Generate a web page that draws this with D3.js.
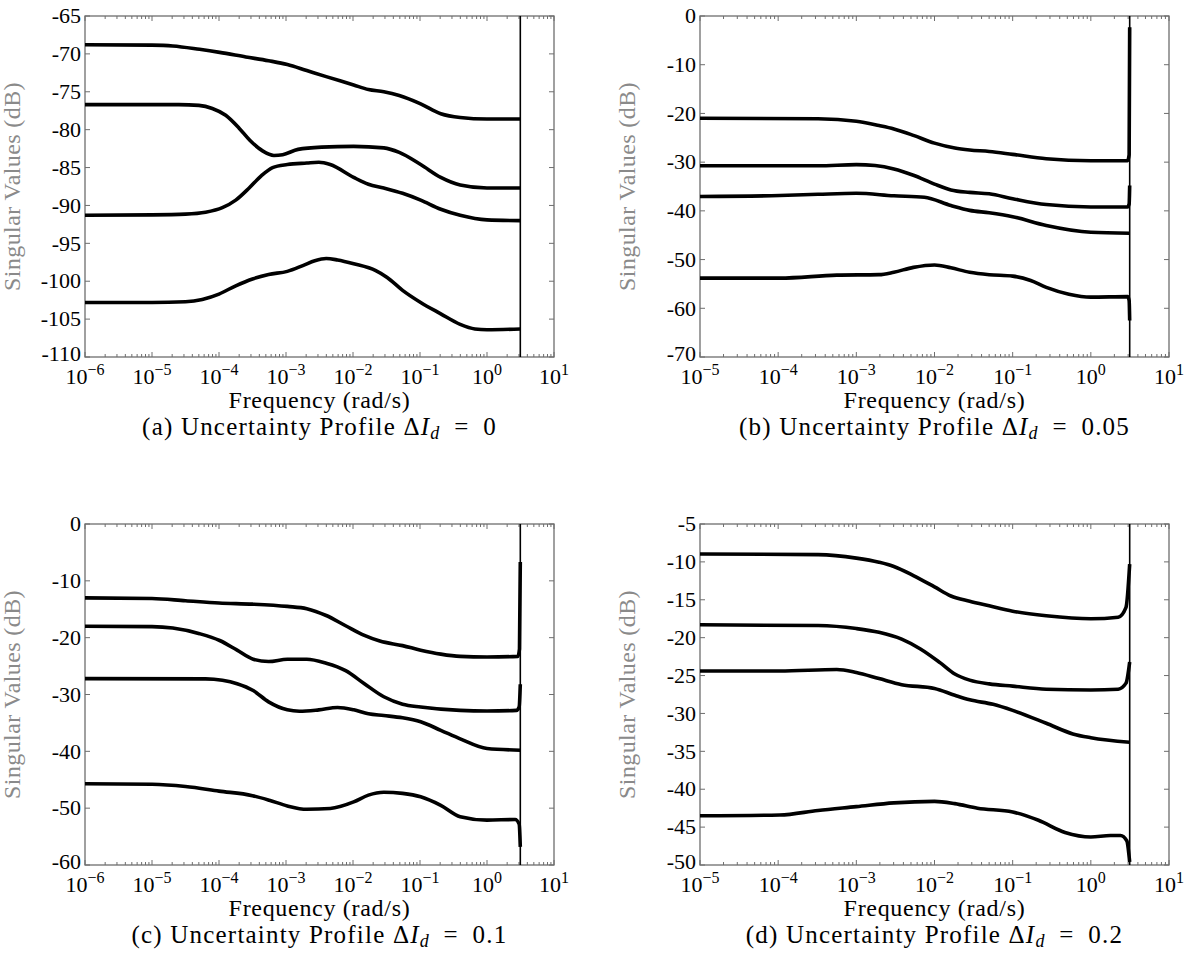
<!DOCTYPE html>
<html>
<head>
  <meta charset="utf-8">
  <style>
body {
  margin: 0;
  background: #fff;
}
svg {
  font-family: "Liberation Serif", "Times New Roman", serif;
}
.sv {
  fill: none;
  stroke: #000;
  stroke-width: 3.6;
  stroke-linejoin: round;
}
  </style>
</head>
<body>
  <svg id="chart" width="1186" height="954"></svg>
  <script src="https://cdn.jsdelivr.net/npm/d3@7/dist/d3.min.js"></script>
  <script>
// each point: [log10 frequency (rad/s), singular value (dB)]

// (a) dI_d = 0
var a1 = [[-6,-68.8],[-5,-68.85],[-4.69,-68.95],[-4.29,-69.4],[-3.99,-69.8],[-3.6,-70.4],[-3.26,-70.9],[-2.98,-71.4],[-2.69,-72.2],[-2.4,-73.0],[-1.99,-74.1],[-1.77,-74.7],[-1.54,-75.0],[-1.31,-75.5],[-0.99,-76.6],[-0.69,-77.9],[-0.4,-78.4],[0,-78.6],[0.497,-78.6]];
var a2 = [[-6,-76.7],[-4.6,-76.7],[-4.3,-76.8],[-4.1,-77.2],[-3.9,-78.1],[-3.7,-79.8],[-3.54,-81.4],[-3.35,-82.8],[-3.18,-83.4],[-3.05,-83.3],[-2.82,-82.6],[-2.47,-82.3],[-1.99,-82.2],[-1.54,-82.4],[-1.31,-83.0],[-0.99,-84.6],[-0.69,-86.3],[-0.4,-87.3],[0,-87.7],[0.497,-87.7]];
var a3 = [[-6,-91.3],[-5,-91.25],[-4.5,-91.15],[-4.2,-90.9],[-3.95,-90.3],[-3.75,-89.3],[-3.55,-87.7],[-3.37,-86.1],[-3.2,-85.0],[-2.98,-84.6],[-2.69,-84.4],[-2.51,-84.3],[-2.34,-84.6],[-1.99,-86.3],[-1.77,-87.2],[-1.54,-87.7],[-1.26,-88.4],[-0.99,-89.3],[-0.69,-90.5],[-0.4,-91.3],[0,-91.9],[0.497,-92.0]];
var a4 = [[-6,-102.8],[-5,-102.8],[-4.5,-102.7],[-4.25,-102.4],[-4.0,-101.7],[-3.75,-100.6],[-3.5,-99.7],[-3.26,-99.1],[-2.98,-98.7],[-2.74,-97.9],[-2.57,-97.3],[-2.4,-97.0],[-2.23,-97.2],[-1.99,-97.7],[-1.66,-98.6],[-1.49,-99.5],[-1.26,-101.2],[-0.99,-102.8],[-0.69,-104.3],[-0.4,-105.7],[-0.18,-106.3],[0,-106.4],[0.497,-106.3]];

// (b) dI_d = 0.05
var b1 = [[-5,-21.0],[-3.49,-21.1],[-3.0,-21.6],[-2.71,-22.5],[-2.52,-23.2],[-2.27,-24.5],[-2.0,-26.1],[-1.74,-27.1],[-1.55,-27.5],[-1.3,-27.8],[-1.0,-28.4],[-0.57,-29.3],[0,-29.7],[0.47,-29.7],[0.49,-28.5],[0.497,-2.3]];
var b2 = [[-5,-30.75],[-3.49,-30.75],[-3.0,-30.5],[-2.76,-30.7],[-2.52,-31.4],[-2.27,-32.7],[-2.0,-34.5],[-1.79,-35.7],[-1.55,-36.2],[-1.3,-36.5],[-1.0,-37.5],[-0.57,-38.7],[0,-39.2],[0.47,-39.2],[0.49,-38.6],[0.497,-34.8]];
var b3 = [[-5,-37.05],[-3.98,-36.85],[-3.49,-36.6],[-3.0,-36.4],[-2.52,-36.9],[-2.13,-37.2],[-1.79,-38.9],[-1.55,-39.9],[-1.3,-40.4],[-1.0,-41.2],[-0.57,-43.0],[0,-44.4],[0.497,-44.6]];
var b4 = [[-5,-53.8],[-3.98,-53.8],[-3.25,-53.2],[-2.71,-53.1],[-2.52,-52.6],[-2.27,-51.6],[-2.0,-51.1],[-1.79,-51.7],[-1.55,-52.6],[-1.3,-53.1],[-1.0,-53.4],[-0.77,-54.3],[-0.57,-55.7],[-0.28,-57.1],[0,-57.7],[0.47,-57.6],[0.49,-58.4],[0.497,-62.5]];

// (c) dI_d = 0.1
var c1 = [[-6,-13.0],[-5,-13.1],[-4.5,-13.5],[-4,-13.9],[-3.5,-14.1],[-2.98,-14.5],[-2.69,-14.9],[-2.4,-16.1],[-2.11,-17.9],[-1.83,-19.6],[-1.6,-20.6],[-1.26,-21.4],[-0.99,-22.2],[-0.69,-22.9],[-0.4,-23.3],[0,-23.4],[0.46,-23.3],[0.485,-22.0],[0.497,-6.7]];
var c2 = [[-6,-18.0],[-5,-18.05],[-4.69,-18.3],[-4.29,-19.3],[-3.99,-20.5],[-3.73,-22.2],[-3.49,-23.8],[-3.26,-24.2],[-2.98,-23.8],[-2.69,-23.8],[-2.4,-24.5],[-2.11,-25.8],[-1.83,-28.1],[-1.54,-30.4],[-1.26,-31.7],[-0.99,-32.2],[-0.4,-32.8],[0,-32.9],[0.44,-32.8],[0.48,-32.2],[0.497,-28.2]];
var c3 = [[-6,-27.2],[-4.2,-27.25],[-3.95,-27.5],[-3.73,-28.1],[-3.49,-29.3],[-3.26,-31.3],[-2.98,-32.7],[-2.8,-32.95],[-2.51,-32.7],[-2.23,-32.3],[-1.99,-32.7],[-1.77,-33.4],[-1.54,-33.7],[-1.26,-34.1],[-0.99,-34.8],[-0.69,-36.3],[-0.4,-37.8],[0,-39.5],[0.497,-39.8]];
var c4 = [[-6,-45.7],[-5,-45.8],[-4.5,-46.2],[-4.0,-47.0],[-3.5,-47.8],[-3.25,-48.6],[-2.98,-49.6],[-2.69,-50.2],[-2.34,-50.06],[-1.99,-48.9],[-1.77,-47.7],[-1.54,-47.2],[-1.26,-47.4],[-0.99,-48.0],[-0.69,-49.5],[-0.4,-51.5],[0,-52.1],[0.42,-52.0],[0.48,-52.8],[0.497,-56.8]];

// (d) dI_d = 0.2
var d1 = [[-5,-8.95],[-3.49,-9.04],[-3.0,-9.5],[-2.71,-10.05],[-2.52,-10.6],[-2.27,-11.8],[-2.0,-13.3],[-1.79,-14.5],[-1.55,-15.2],[-1.3,-15.8],[-1.0,-16.5],[-0.57,-17.1],[0,-17.5],[0.35,-17.3],[0.45,-16.0],[0.497,-10.3]];
var d2 = [[-5,-18.3],[-3.49,-18.4],[-3.0,-18.8],[-2.71,-19.3],[-2.42,-20.2],[-2.18,-21.5],[-1.93,-23.3],[-1.74,-24.8],[-1.55,-25.6],[-1.3,-26.1],[-1.0,-26.4],[-0.57,-26.8],[0,-26.9],[0.35,-26.8],[0.45,-26.0],[0.497,-23.2]];
var d3v = [[-5,-24.4],[-3.98,-24.4],[-3.25,-24.2],[-3.0,-24.6],[-2.71,-25.4],[-2.42,-26.2],[-2.0,-26.7],[-1.74,-27.6],[-1.55,-28.2],[-1.25,-28.8],[-1.0,-29.6],[-0.57,-31.3],[-0.23,-32.7],[0,-33.2],[0.497,-33.8]];
var d4 = [[-5,-43.5],[-3.98,-43.4],[-3.49,-42.8],[-3.0,-42.3],[-2.52,-41.8],[-2.0,-41.6],[-1.74,-41.9],[-1.45,-42.5],[-1.0,-43.0],[-0.67,-44.1],[-0.33,-45.7],[0,-46.3],[0.25,-46.1],[0.38,-46.1],[0.46,-46.8],[0.497,-49.6]];

// y tick values per panel
var aYTicks = d3.range(-110, -64, 5),
    bYTicks = d3.range(-70, 1, 10),
    cYTicks = d3.range(-60, 1, 10),
    dYTicks = d3.range(-50, -4, 5);

var panels = [
  {tag: "a", du: "0",    xDom: [1e-6, 10], yDom: [-110, -65], yTicks: aYTicks, lines: [a1, a2, a3, a4], col: 0, row: 0},
  {tag: "b", du: "0.05", xDom: [1e-5, 10], yDom: [-70, 0],    yTicks: bYTicks, lines: [b1, b2, b3, b4], col: 1, row: 0},
  {tag: "c", du: "0.1",  xDom: [1e-6, 10], yDom: [-60, 0],    yTicks: cYTicks, lines: [c1, c2, c3, c4], col: 0, row: 1},
  {tag: "d", du: "0.2",  xDom: [1e-5, 10], yDom: [-50, -5],   yTicks: dYTicks, lines: [d1, d2, d3v, d4], col: 1, row: 1}
];

// Nyquist frequency (sample time 1 s)
var nyq = Math.PI;

var svg = d3.select("#chart"),
    colX = [85, 700],
    rowY = [16, 524],
    w = 469,
    h = 341;

var axisGrey = "#6e6e6e";

function drawPanel(p) {
  var g = svg.append("g")
    .attr("transform", "translate(" + colX[p.col] + "," + rowY[p.row] + ")");

  var x = d3.scaleLog().domain(p.xDom).range([0, w]),
      y = d3.scaleLinear().domain(p.yDom).range([h, 0]);

  // tick marks (inside, on all four sides)
  var lo = Math.round(Math.log10(p.xDom[0])), hi = Math.round(Math.log10(p.xDom[1]));
  var major = d3.range(lo, hi + 1).map(function(e) { return Math.pow(10, e); });
  var minor = [];
  d3.range(lo, hi).forEach(function(e) {
    for (var k = 2; k < 10; k++) minor.push(k * Math.pow(10, e));
  });

  var ticks = g.append("g").attr("stroke", axisGrey).attr("stroke-width", 1);
  major.forEach(function(v) {
    ticks.append("line").attr("x1", x(v)).attr("x2", x(v)).attr("y1", h).attr("y2", h - 5);
    ticks.append("line").attr("x1", x(v)).attr("x2", x(v)).attr("y1", 0).attr("y2", 5);
  });
  minor.forEach(function(v) {
    ticks.append("line").attr("x1", x(v)).attr("x2", x(v)).attr("y1", h).attr("y2", h - 3);
    ticks.append("line").attr("x1", x(v)).attr("x2", x(v)).attr("y1", 0).attr("y2", 3);
  });
  p.yTicks.forEach(function(v) {
    ticks.append("line").attr("x1", 0).attr("x2", 5).attr("y1", y(v)).attr("y2", y(v));
    ticks.append("line").attr("x1", w).attr("x2", w - 5).attr("y1", y(v)).attr("y2", y(v));
  });

  // box
  g.append("rect")
    .attr("width", w)
    .attr("height", h)
    .attr("fill", "none")
    .attr("stroke", axisGrey)
    .attr("stroke-width", 1.3);

  // y tick labels (lowest one nudged up a hair so it clears the first x label)
  g.append("g").selectAll("text")
    .data(p.yTicks)
    .enter().append("text")
      .attr("x", -4)
      .attr("y", function(d, i) { return y(d) - (i === 0 ? 3 : 0); })
      .attr("dy", "0.33em")
      .attr("text-anchor", "end")
      .attr("font-size", 22)
      .text(function(d) { return String(d); });

  // x tick labels: 10^e
  var xl = g.append("g").selectAll("text")
    .data(major)
    .enter().append("text")
      .attr("x", function(d) { return x(d); })
      .attr("y", h + 27)
      .attr("text-anchor", "middle")
      .attr("font-size", 22);
  xl.append("tspan").text("10");
  xl.append("tspan")
    .attr("dy", -9)
    .attr("font-size", 16)
    .text(function(d) { return String(Math.round(Math.log10(d))).replace("-", "\u2212"); });

  // Nyquist line
  g.append("line")
    .attr("x1", x(nyq)).attr("x2", x(nyq))
    .attr("y1", 0).attr("y2", h)
    .attr("stroke", "#000")
    .attr("stroke-width", 1.6);

  // singular value curves
  var line = d3.line()
    .x(function(d) { return x(Math.pow(10, d[0])); })
    .y(function(d) { return y(d[1]); })
    .curve(d3.curveMonotoneX);

  g.selectAll("path.sv")
    .data(p.lines)
    .enter().append("path")
      .attr("class", "sv")
      .attr("d", line);

  // axis titles
  g.append("text")
    .attr("transform", "translate(" + (-65) + "," + (h / 2) + ") rotate(-90)")
    .attr("text-anchor", "middle")
    .attr("font-size", 24)
    .attr("letter-spacing", 0.4)
    .attr("fill", "#8a8a8a")
    .text("Singular Values (dB)");

  g.append("text")
    .attr("x", w / 2)
    .attr("y", h + 51)
    .attr("text-anchor", "middle")
    .attr("font-size", 24)
    .attr("letter-spacing", 0.7)
    .text("Frequency (rad/s)");

  // caption
  var cap = g.append("text")
    .attr("x", w / 2)
    .attr("y", h + 78)
    .attr("text-anchor", "middle")
    .attr("font-size", 25)
    .attr("letter-spacing", 1.2);
  cap.append("tspan").text("(" + p.tag + ") Uncertainty Profile \u0394");
  cap.append("tspan").attr("font-style", "italic").text("I");
  cap.append("tspan").attr("font-style", "italic").attr("font-size", 18).attr("dy", 4).text("d");
  cap.append("tspan").attr("dy", -4).text("\u2002=\u2002" + p.du);
}

panels.forEach(drawPanel);
  </script>
</body>
</html>
